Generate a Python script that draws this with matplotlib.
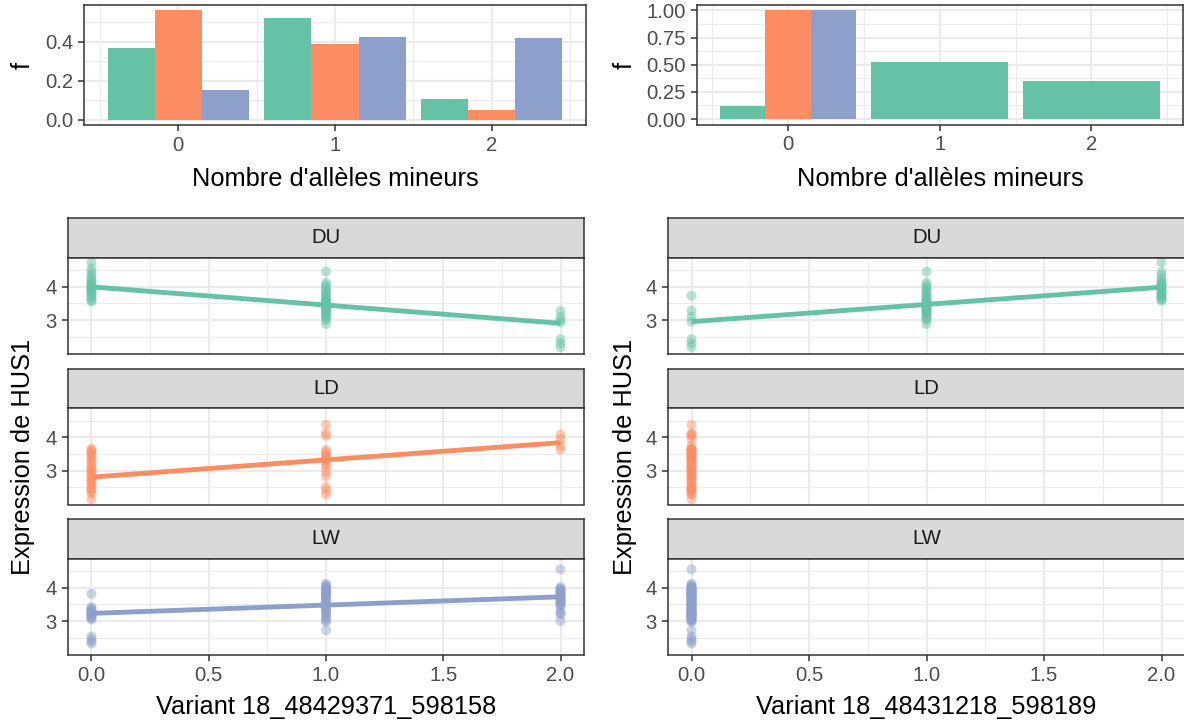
import numpy as np
import matplotlib
matplotlib.use("Agg")
import matplotlib.pyplot as plt
from matplotlib.ticker import FixedLocator

plt.rcParams['font.family'] = ['Liberation Sans', 'DejaVu Sans']

# ---- données ----
breeds = ['DU', 'LD', 'LW']
colors = ['#66C2A5', '#FC8D62', '#8DA0CB']
genotypes = [0, 1, 2]

# fréquences des génotypes (barres du haut)
freq_left = [[0.368, 0.521, 0.108],
             [0.561, 0.390, 0.050],
             [0.154, 0.427, 0.419]]
freq_right = [[0.123, 0.523, 0.347],
              [1.0, np.nan, np.nan],
              [1.0, np.nan, np.nan]]

# expression de HUS1 par génotype (variant de gauche)
du_g0 = [4.74, 4.55, 4.45, 4.35, 4.28, 4.2, 4.15, 4.1, 4.06, 4.02, 4.0, 3.97,
         3.94, 3.9, 3.86, 3.82, 3.78, 3.72, 3.66, 3.6, 3.56]
du_g1 = [4.46, 4.12, 4.05, 3.98, 3.92, 3.86, 3.8, 3.75, 3.7, 3.65, 3.6, 3.56,
         3.52, 3.49, 3.46, 3.43, 3.4, 3.37, 3.34, 3.3, 3.27, 3.24, 3.2, 3.15,
         3.1, 3.05, 3.0, 3.45, 3.55, 2.88]
du_g2 = [3.27, 3.1, 3.0, 2.93, 2.42, 2.3, 2.18]
ld_g0 = [3.66, 3.6, 3.55, 3.5, 3.42, 3.35, 3.28, 3.2, 3.12, 3.05, 3.0, 2.95,
         2.88, 2.82, 2.76, 2.7, 2.64, 2.58, 2.5, 2.44, 2.38, 2.3, 2.13]
ld_g1 = [4.38, 4.12, 4.05, 3.62, 3.55, 3.48, 3.42, 3.35, 3.28, 3.2, 3.1, 2.95,
         2.82, 2.5, 2.4, 2.28]
ld_g2 = [4.08, 3.95, 3.75, 3.63]
lw_g0 = [3.82, 3.42, 3.38, 3.34, 3.3, 3.27, 3.24, 3.21, 3.18, 3.15, 3.12,
         3.08, 3.05, 3.2, 2.53, 2.45, 2.38, 2.32]
lw_g1 = [4.12, 4.08, 4.04, 4.0, 3.97, 3.94, 3.91, 3.88, 3.85, 3.82, 3.79,
         3.76, 3.73, 3.7, 3.66, 3.62, 3.58, 3.54, 3.5, 3.46, 3.42, 3.38, 3.34,
         3.3, 3.25, 3.2, 3.14, 3.08, 3.02, 2.97, 2.72]
lw_g2 = [4.56, 4.02, 3.98, 3.95, 3.92, 3.89, 3.86, 3.83, 3.8, 3.77, 3.74,
         3.71, 3.68, 3.65, 3.62, 3.59, 3.56, 3.52, 3.48, 3.45, 3.3, 3.24,
         3.2, 3.0]

# variant de droite : DU réparti autrement, LD et LW tous à 0
du_r0 = [3.73, 3.28, 3.1, 2.95, 2.42, 2.3, 2.18]
du_r2 = [4.74, 4.45, 4.35, 4.25, 4.18, 4.12, 4.08, 4.04, 4.0, 3.97, 3.94,
         3.9, 3.86, 3.82, 3.78, 3.74, 3.7, 3.66, 3.62, 3.58]

points_left = [[du_g0, du_g1, du_g2], [ld_g0, ld_g1, ld_g2], [lw_g0, lw_g1, lw_g2]]
points_right = [[du_r0, du_g1, du_r2],
                [ld_g0 + ld_g1 + ld_g2, [], []],
                [lw_g0 + lw_g1 + lw_g2, [], []]]

# droites de régression (valeurs lues en x=0 et x=2)
fit_left = [[4.0, 2.9], [2.8, 3.84], [3.23, 3.73]]
fit_right = [[2.95, 3.99], None, None]

xlabel_left = "Variant 18_48429371_598158"
xlabel_right = "Variant 18_48431218_598189"

# ---- mise en page ----
W, H = 1184, 723
fig = plt.figure(figsize=(W / 100, H / 100), dpi=100)

BORDER = '#333333'
GRID = '#EBEBEB'
TICK_FS = 14.6
TITLE_FS = 18.3


def box(x0, y0, x1, y1):
    return [x0 / W, 1 - y1 / H, (x1 - x0) / W, (y1 - y0) / H]


def style(ax, xmaj, xmin, ymaj, ymin, show_x=True):
    for s in ax.spines.values():
        s.set_color(BORDER)
        s.set_linewidth(1.1)
        s.set_zorder(6)
    ax.xaxis.set_major_locator(FixedLocator(xmaj))
    ax.xaxis.set_minor_locator(FixedLocator(xmin))
    ax.yaxis.set_major_locator(FixedLocator(ymaj))
    ax.yaxis.set_minor_locator(FixedLocator(ymin))
    ax.grid(which='major', color=GRID, lw=1.6, zorder=0)
    ax.grid(which='minor', color=GRID, lw=0.8, zorder=0)
    ax.set_axisbelow(True)
    ax.tick_params(which='major', length=4.3, width=1.1, color=BORDER,
                   labelcolor='#4D4D4D', labelsize=TICK_FS, pad=3.6)
    ax.tick_params(which='minor', length=0)
    if not show_x:
        ax.tick_params(axis='x', which='major', length=0, labelbottom=False)


def bars(rect, freq, yticks, ylabels, ymin):
    ax = fig.add_axes(box(*rect))
    for i in genotypes:
        present = [b for b in range(3) if not np.isnan(freq[b][i])]
        w = 0.9 / len(present)
        for k, b in enumerate(present):
            ax.bar(i + (k - (len(present) - 1) / 2) * w, freq[b][i], width=w,
                   color=colors[b], linewidth=0, zorder=2)
    top = np.nanmax(freq)
    ax.set_xlim(-0.6, 2.6)
    ax.set_ylim(-0.05 * top, 1.05 * top)
    style(ax, genotypes, [-0.5, 0.5, 1.5, 2.5], yticks, ymin)
    ax.set_yticklabels(ylabels)
    return ax


bars((84, 5, 586, 125), freq_left, [0, 0.2, 0.4], ['0.0', '0.2', '0.4'],
     [0.1, 0.3, 0.5])
bars((697, 5, 1182.5, 124.5), freq_right, [0, 0.25, 0.5, 0.75, 1.0],
     ['0.00', '0.25', '0.50', '0.75', '1.00'], [0.125, 0.375, 0.625, 0.875])

strips = [(218, 257.5, 354), (368.5, 408, 504.5), (519, 558.5, 655)]


def facets(x0, x1, points, fits):
    for b, (s0, p0, p1) in enumerate(strips):
        st = fig.add_axes(box(x0, s0, x1, p0))
        st.set_facecolor('#D9D9D9')
        st.set_xticks([])
        st.set_yticks([])
        for s in st.spines.values():
            s.set_color(BORDER)
            s.set_linewidth(1.1)
        st.text(0.5, 0.5, breeds[b], transform=st.transAxes, ha='center',
                va='center', fontsize=TICK_FS, color='#1A1A1A')

        ax = fig.add_axes(box(x0, p0, x1, p1))
        for g in genotypes:
            vals = points[b][g]
            if len(vals):
                ax.scatter(np.full(len(vals), g), vals, s=52, color=colors[b],
                           alpha=0.45, edgecolors='none', zorder=3)
        if fits[b] is not None:
            ax.plot([0, 2], fits[b], color=colors[b], lw=3.5, zorder=4,
                    solid_capstyle='butt')
        ax.set_xlim(-0.1, 2.1)
        ax.set_ylim(1.975, 4.885)
        style(ax, [0, 0.5, 1, 1.5, 2], [0.25, 0.75, 1.25, 1.75], [3, 4],
              [2.5, 3.5, 4.5], show_x=(b == 2))
        if b == 2:
            ax.set_xticklabels(['0.0', '0.5', '1.0', '1.5', '2.0'])


facets(68, 584, points_left, fit_left)
facets(668, 1185, points_right, fit_right)


def ftext(x, y, s, **kw):
    fig.text(x / W, 1 - y / H, s, fontsize=TITLE_FS, color='black', **kw)


ftext(335, 186, "Nombre d'allèles mineurs", ha='center', va='baseline')
ftext(940, 186, "Nombre d'allèles mineurs", ha='center', va='baseline')
ftext(326, 714, xlabel_left, ha='center', va='baseline')
ftext(926, 714, xlabel_right, ha='center', va='baseline')
for xb in (30, 632):
    ftext(xb, 65, "f", ha='center', va='baseline', rotation=90,
          rotation_mode='anchor')
    ftext(xb, 457, "Expression de HUS1", ha='center', va='baseline',
          rotation=90, rotation_mode='anchor')

fig.savefig("out.png", dpi=100)
